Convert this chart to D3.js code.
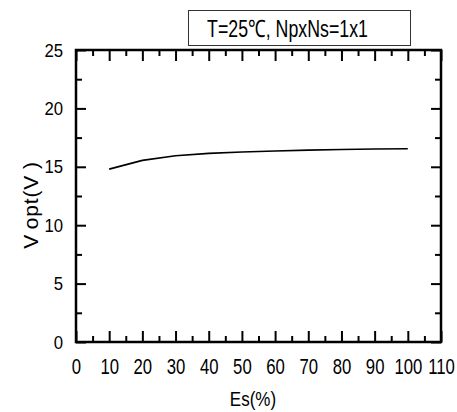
<!DOCTYPE html>
<html>
<head>
<meta charset="utf-8">
<script src="https://cdn.jsdelivr.net/npm/d3@7"></script>
<style>
  body { margin: 0; background: #fff; }
  text { font-family: "Liberation Sans", Arial, sans-serif; fill: #000; }
</style>
</head>
<body>
<div id="chart"></div>
<script>
// efficiency Es (%) vs optimal voltage Vopt (V)
const esValues = [10, 20, 30, 40, 50, 60, 70, 80, 90, 100];
const voptValues = [14.8, 15.55, 15.95, 16.15, 16.27, 16.35, 16.43, 16.48, 16.52, 16.55];
const xMajorTicks = [0, 10, 20, 30, 40, 50, 60, 70, 80, 90, 100, 110];
const yMajorTicks = [0, 5, 10, 15, 20, 25];
const legendLabel = "T=25\u2103, NpxNs=1x1";

let margin = { top: 50, right: 16, bottom: 70, left: 76 },
    width = 457 - margin.left - margin.right,
    height = 412 - margin.top - margin.bottom;

let x = d3.scaleLinear().domain([0, 110]).range([0, width]);
let y = d3.scaleLinear().domain([0, 25]).range([height, 0]);

let data = esValues.map((e, i) => ({ es: e, vopt: voptValues[i] }));

let svg = d3.select("#chart").append("svg")
    .attr("width", 457)
    .attr("height", 412)
    .append("g").attr("transform", "translate(" + margin.left + "," + margin.top + ")");

let xMinor = d3.range(5, 110, 10);
let yMinor = d3.range(2.5, 25, 5);

function styleAxis(g) {
    g.select(".domain").remove();
    g.selectAll(".tick line").attr("stroke", "#000").attr("stroke-width", 2);
}

// bottom
svg.append("g")
    .attr("transform", "translate(0," + height + ")")
    .call(d3.axisBottom(x).tickValues(xMajorTicks).tickSize(-11).tickPadding(16).tickFormat(d3.format("d")))
    .call(styleAxis)
    .call(g => g.selectAll(".tick text")
        .style("font-size", "22px")
        .attr("transform", "scale(0.76,1)"));
svg.append("g")
    .attr("transform", "translate(0," + height + ")")
    .call(d3.axisBottom(x).tickValues(xMinor).tickSize(-6).tickFormat(""))
    .call(styleAxis);

// top
svg.append("g")
    .call(d3.axisTop(x).tickValues(xMajorTicks).tickSize(-11).tickFormat(""))
    .call(styleAxis);
svg.append("g")
    .call(d3.axisTop(x).tickValues(xMinor).tickSize(-6).tickFormat(""))
    .call(styleAxis);

// left
svg.append("g")
    .call(d3.axisLeft(y).tickValues(yMajorTicks).tickSize(-10).tickPadding(13).tickFormat(d3.format("d")))
    .call(styleAxis)
    .call(g => g.selectAll(".tick text")
        .style("font-size", "19px")
        .attr("x", -13 / 0.88)
        .attr("transform", "scale(0.88,1)"));
svg.append("g")
    .call(d3.axisLeft(y).tickValues(yMinor).tickSize(-6).tickFormat(""))
    .call(styleAxis);

// right
svg.append("g")
    .attr("transform", "translate(" + width + ",0)")
    .call(d3.axisRight(y).tickValues(yMajorTicks).tickSize(-10).tickFormat(""))
    .call(styleAxis);
svg.append("g")
    .attr("transform", "translate(" + width + ",0)")
    .call(d3.axisRight(y).tickValues(yMinor).tickSize(-6).tickFormat(""))
    .call(styleAxis);

// frame
svg.append("rect")
    .attr("width", width)
    .attr("height", height)
    .attr("fill", "none")
    .attr("stroke", "#000")
    .attr("stroke-width", 2.5);

let valueline = d3.line()
    .x(d => x(d.es))
    .y(d => y(d.vopt));

svg.append("path")
    .datum(data)
    .attr("fill", "none")
    .attr("stroke", "#000")
    .attr("stroke-width", 1.6)
    .attr("d", valueline);

// legend box
svg.append("rect")
    .attr("x", 188.5 - margin.left)
    .attr("y", 10.5 - margin.top)
    .attr("width", 222)
    .attr("height", 35)
    .attr("fill", "#fff")
    .attr("stroke", "#333")
    .attr("stroke-width", 1);

svg.append("text")
    .attr("transform", "translate(" + (287.5 - margin.left) + "," + (37.3 - margin.top) + ") scale(0.74,1)")
    .attr("text-anchor", "middle")
    .style("font-size", "24px")
    .text(legendLabel);

// axis titles
svg.append("text")
    .attr("transform", "translate(" + (253 - margin.left) + "," + (406 - margin.top) + ") scale(0.81,1)")
    .attr("text-anchor", "middle")
    .style("font-size", "21px")
    .text("Es(%)");

let yTitle = svg.append("text")
    .attr("transform", "translate(" + (38 - margin.left) + "," + (205 - margin.top) + ") rotate(-90)")
    .attr("text-anchor", "middle")
    .style("font-size", "21px")
    .style("letter-spacing", "0.8px");
yTitle.append("tspan").text("V");
yTitle.append("tspan").attr("dx", 6).text("opt(V");
yTitle.append("tspan").attr("dx", 6).text(")");
</script>
</body>
</html>
